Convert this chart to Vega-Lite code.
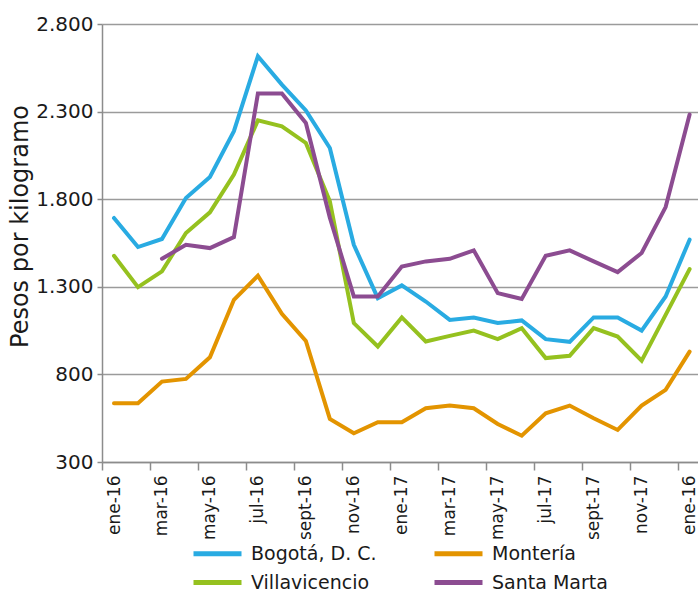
{
  "$schema": "https://vega.github.io/schema/vega-lite/v6.json",
  "width": 596,
  "height": 438,
  "autosize": {"type": "none"},
  "padding": {"left": 102, "top": 24, "right": 0, "bottom": 131},
  "background": "white",
  "config": {"view": {"stroke": null}, "font": "DejaVu Sans"},
  "datasets": {
    "precios": [
      {"mes": 0, "ciudad": "Bogotá, D. C.", "precio": 1693},
      {"mes": 1, "ciudad": "Bogotá, D. C.", "precio": 1527},
      {"mes": 2, "ciudad": "Bogotá, D. C.", "precio": 1573},
      {"mes": 3, "ciudad": "Bogotá, D. C.", "precio": 1807},
      {"mes": 4, "ciudad": "Bogotá, D. C.", "precio": 1927},
      {"mes": 5, "ciudad": "Bogotá, D. C.", "precio": 2188},
      {"mes": 6, "ciudad": "Bogotá, D. C.", "precio": 2616},
      {"mes": 7, "ciudad": "Bogotá, D. C.", "precio": 2454},
      {"mes": 8, "ciudad": "Bogotá, D. C.", "precio": 2307},
      {"mes": 9, "ciudad": "Bogotá, D. C.", "precio": 2092},
      {"mes": 10, "ciudad": "Bogotá, D. C.", "precio": 1540},
      {"mes": 11, "ciudad": "Bogotá, D. C.", "precio": 1235},
      {"mes": 12, "ciudad": "Bogotá, D. C.", "precio": 1308},
      {"mes": 13, "ciudad": "Bogotá, D. C.", "precio": 1216},
      {"mes": 14, "ciudad": "Bogotá, D. C.", "precio": 1111},
      {"mes": 15, "ciudad": "Bogotá, D. C.", "precio": 1125},
      {"mes": 16, "ciudad": "Bogotá, D. C.", "precio": 1093},
      {"mes": 17, "ciudad": "Bogotá, D. C.", "precio": 1108},
      {"mes": 18, "ciudad": "Bogotá, D. C.", "precio": 1001},
      {"mes": 19, "ciudad": "Bogotá, D. C.", "precio": 986},
      {"mes": 20, "ciudad": "Bogotá, D. C.", "precio": 1125},
      {"mes": 21, "ciudad": "Bogotá, D. C.", "precio": 1125},
      {"mes": 22, "ciudad": "Bogotá, D. C.", "precio": 1050},
      {"mes": 23, "ciudad": "Bogotá, D. C.", "precio": 1245},
      {"mes": 24, "ciudad": "Bogotá, D. C.", "precio": 1569},
      {"mes": 0, "ciudad": "Montería", "precio": 635},
      {"mes": 1, "ciudad": "Montería", "precio": 635},
      {"mes": 2, "ciudad": "Montería", "precio": 759},
      {"mes": 3, "ciudad": "Montería", "precio": 774},
      {"mes": 4, "ciudad": "Montería", "precio": 898},
      {"mes": 5, "ciudad": "Montería", "precio": 1226},
      {"mes": 6, "ciudad": "Montería", "precio": 1363},
      {"mes": 7, "ciudad": "Montería", "precio": 1146},
      {"mes": 8, "ciudad": "Montería", "precio": 991},
      {"mes": 9, "ciudad": "Montería", "precio": 546},
      {"mes": 10, "ciudad": "Montería", "precio": 464},
      {"mes": 11, "ciudad": "Montería", "precio": 527},
      {"mes": 12, "ciudad": "Montería", "precio": 527},
      {"mes": 13, "ciudad": "Montería", "precio": 607},
      {"mes": 14, "ciudad": "Montería", "precio": 622},
      {"mes": 15, "ciudad": "Montería", "precio": 607},
      {"mes": 16, "ciudad": "Montería", "precio": 517},
      {"mes": 17, "ciudad": "Montería", "precio": 450},
      {"mes": 18, "ciudad": "Montería", "precio": 578},
      {"mes": 19, "ciudad": "Montería", "precio": 622},
      {"mes": 20, "ciudad": "Montería", "precio": 550},
      {"mes": 21, "ciudad": "Montería", "precio": 483},
      {"mes": 22, "ciudad": "Montería", "precio": 622},
      {"mes": 23, "ciudad": "Montería", "precio": 712},
      {"mes": 24, "ciudad": "Montería", "precio": 930},
      {"mes": 0, "ciudad": "Villavicencio", "precio": 1477},
      {"mes": 1, "ciudad": "Villavicencio", "precio": 1298},
      {"mes": 2, "ciudad": "Villavicencio", "precio": 1388},
      {"mes": 3, "ciudad": "Villavicencio", "precio": 1607},
      {"mes": 4, "ciudad": "Villavicencio", "precio": 1725},
      {"mes": 5, "ciudad": "Villavicencio", "precio": 1940},
      {"mes": 6, "ciudad": "Villavicencio", "precio": 2250},
      {"mes": 7, "ciudad": "Villavicencio", "precio": 2216},
      {"mes": 8, "ciudad": "Villavicencio", "precio": 2121},
      {"mes": 9, "ciudad": "Villavicencio", "precio": 1788},
      {"mes": 10, "ciudad": "Villavicencio", "precio": 1093},
      {"mes": 11, "ciudad": "Villavicencio", "precio": 959},
      {"mes": 12, "ciudad": "Villavicencio", "precio": 1125},
      {"mes": 13, "ciudad": "Villavicencio", "precio": 988},
      {"mes": 14, "ciudad": "Villavicencio", "precio": 1020},
      {"mes": 15, "ciudad": "Villavicencio", "precio": 1050},
      {"mes": 16, "ciudad": "Villavicencio", "precio": 1001},
      {"mes": 17, "ciudad": "Villavicencio", "precio": 1064},
      {"mes": 18, "ciudad": "Villavicencio", "precio": 893},
      {"mes": 19, "ciudad": "Villavicencio", "precio": 906},
      {"mes": 20, "ciudad": "Villavicencio", "precio": 1064},
      {"mes": 21, "ciudad": "Villavicencio", "precio": 1016},
      {"mes": 22, "ciudad": "Villavicencio", "precio": 879},
      {"mes": 23, "ciudad": "Villavicencio", "precio": 1140},
      {"mes": 24, "ciudad": "Villavicencio", "precio": 1401},
      {"mes": 2, "ciudad": "Santa Marta", "precio": 1460},
      {"mes": 3, "ciudad": "Santa Marta", "precio": 1540},
      {"mes": 4, "ciudad": "Santa Marta", "precio": 1521},
      {"mes": 5, "ciudad": "Santa Marta", "precio": 1584},
      {"mes": 6, "ciudad": "Santa Marta", "precio": 2403},
      {"mes": 7, "ciudad": "Santa Marta", "precio": 2403},
      {"mes": 8, "ciudad": "Santa Marta", "precio": 2235},
      {"mes": 9, "ciudad": "Santa Marta", "precio": 1695},
      {"mes": 10, "ciudad": "Santa Marta", "precio": 1245},
      {"mes": 11, "ciudad": "Santa Marta", "precio": 1245},
      {"mes": 12, "ciudad": "Santa Marta", "precio": 1416},
      {"mes": 13, "ciudad": "Santa Marta", "precio": 1445},
      {"mes": 14, "ciudad": "Santa Marta", "precio": 1460},
      {"mes": 15, "ciudad": "Santa Marta", "precio": 1508},
      {"mes": 16, "ciudad": "Santa Marta", "precio": 1264},
      {"mes": 17, "ciudad": "Santa Marta", "precio": 1230},
      {"mes": 18, "ciudad": "Santa Marta", "precio": 1477},
      {"mes": 19, "ciudad": "Santa Marta", "precio": 1508},
      {"mes": 20, "ciudad": "Santa Marta", "precio": 1445},
      {"mes": 21, "ciudad": "Santa Marta", "precio": 1384},
      {"mes": 22, "ciudad": "Santa Marta", "precio": 1493},
      {"mes": 23, "ciudad": "Santa Marta", "precio": 1755},
      {"mes": 24, "ciudad": "Santa Marta", "precio": 2283}
    ]
  },
  "data": {"name": "precios"},
  "mark": {"type": "line", "strokeWidth": 4, "strokeCap": "round"},
  "encoding": {
    "x": {
      "field": "mes",
      "type": "quantitative",
      "scale": {"domain": [-0.5, 24.35], "nice": false, "zero": false},
      "axis": {
        "title": null,
        "grid": false,
        "values": [-0.5, 1.5, 3.5, 5.5, 7.5, 9.5, 11.5, 13.5, 15.5, 17.5, 19.5, 21.5, 23.5],
        "labelExpr": "['ene-16','mar-16','may-16','jul-16','sept-16','nov-16','ene-17','mar-17','may-17','jul-17','sept-17','nov-17','ene-16'][round((datum.value+0.5)/2)]",
        "labelAngle": 270,
        "labelFontSize": 17,
        "labelColor": "#1a1a1a",
        "labelOverlap": false,
        "labelFlush": false,
        "labelBound": false,
        "labelOffset": 12,
        "labelPadding": 5,
        "tickSize": 8,
        "tickColor": "#8c8c8c",
        "tickWidth": 1.5,
        "domainColor": "#8c8c8c",
        "domainWidth": 1.5
      }
    },
    "y": {
      "field": "precio",
      "type": "quantitative",
      "scale": {"domain": [300, 2800], "nice": false, "zero": false},
      "axis": {
        "title": "Pesos por kilogramo",
        "titleFontSize": 24,
        "titleFontWeight": "normal",
        "titleColor": "#1a1a1a",
        "titleAngle": 270,
        "titleX": -82,
        "titleY": 202,
        "titleAlign": "center",
        "titleBaseline": "middle",
        "values": [300, 800, 1300, 1800, 2300, 2800],
        "labelExpr": "replace(format(datum.value, ','), ',', '.')",
        "labelFontSize": 20,
        "labelColor": "#1a1a1a",
        "labelPadding": 4,
        "tickSize": 5,
        "tickColor": "#8c8c8c",
        "tickWidth": 1.5,
        "domainColor": "#8c8c8c",
        "domainWidth": 1.5,
        "gridColor": "#9b9b9b",
        "gridWidth": 1.5
      }
    },
    "color": {
      "field": "ciudad",
      "type": "nominal",
      "scale": {
        "domain": ["Bogotá, D. C.", "Villavicencio", "Montería", "Santa Marta"],
        "range": ["#29abe2", "#95c11f", "#e39400", "#8c4c91"]
      },
      "legend": {
        "orient": "none",
        "legendX": 103,
        "legendY": 517,
        "columns": 2,
        "title": null,
        "symbolType": "M-2.4,0H2.4",
        "symbolSize": 400,
        "symbolStrokeWidth": 5,
        "labelFontSize": 19,
        "labelColor": "#1a1a1a",
        "labelOffset": 21,
        "columnPadding": 47,
        "rowPadding": 6
      }
    }
  }
}
